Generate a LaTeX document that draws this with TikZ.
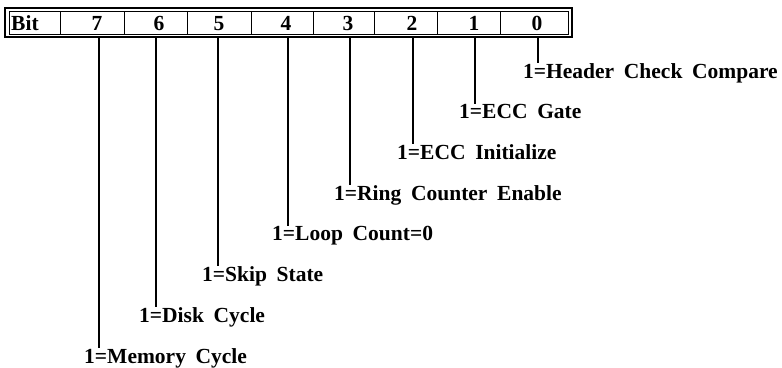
\documentclass[tikz,border=0pt]{standalone}
\usepackage{fontspec}
\setmainfont{Liberation Serif}
\newfontfamily\labfont{Liberation Serif}[UprightFont=* Bold, WordSpace=1.8]
\begin{document}
\begin{tikzpicture}[x=1pt,y=-1pt,
  txt/.style={font=\labfont\fontsize{21.5}{24}\selectfont, inner sep=0pt},
  lab/.style={txt, anchor=base west, text height=14pt, text depth=4pt},
  digit/.style={txt, anchor=base},
  conn/.style={line width=1.3pt},
  frameout/.style={line width=1.8pt},
  framein/.style={line width=0.8pt},
  divider/.style={line width=1pt},
]
\useasboundingbox (0,0) rectangle (782,367);
% register frame
\draw[frameout] (5,8) rectangle (572,37);
\draw[framein] (9,11) rectangle (568,34);
\foreach \x in {60,124,187,251,313,374,437,500} \draw[divider] (\x,11) -- (\x,34);
% header cells
\node[txt, anchor=base west] (bit) at (11,30) {Bit};
\node[digit] (d7) at (97,30) {7};
\node[digit] (d6) at (159,30) {6};
\node[digit] (d5) at (219,30) {5};
\node[digit] (d4) at (286,30) {4};
\node[digit] (d3) at (348,30) {3};
\node[digit] (d2) at (412,30) {2};
\node[digit] (d1) at (474,30) {1};
\node[digit] (d0) at (537,30) {0};
% connector tops
\coordinate (t7) at (99,37);
\coordinate (t6) at (156,37);
\coordinate (t5) at (218,37);
\coordinate (t4) at (288,37);
\coordinate (t3) at (350,37);
\coordinate (t2) at (413,37);
\coordinate (t1) at (475,37);
\coordinate (t0) at (538,37);
% labels
\node[lab] (l0) at (523,78) {1=Header Check Compare};
\node[lab] (l1) at (459,118.7) {1=ECC Gate};
\node[lab] (l2) at (397,159.4) {1=ECC Initialize};
\node[lab] (l3) at (334,200.1) {1=Ring Counter Enable};
\node[lab] (l4) at (272,240.8) {1=Loop Count=0};
\node[lab] (l5) at (202,281.5) {1=Skip State};
\node[lab] (l6) at (139,322.2) {1=Disk Cycle};
\node[lab] (l7) at (84,363) {1=Memory Cycle};
% connectors
\foreach \i in {0,...,7}
  \draw[conn] (t\i) -- ([yshift=1pt]l\i.north -| t\i);
\end{tikzpicture}
\end{document}
